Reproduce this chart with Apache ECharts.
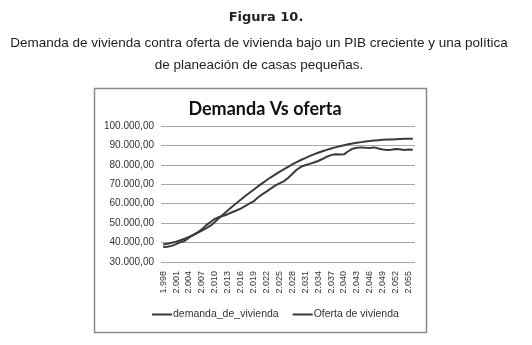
<!DOCTYPE html>
<html>
<head>
<meta charset="utf-8">
<script src="https://cdn.jsdelivr.net/npm/echarts@6/dist/echarts.min.js"></script>
<style>
  html, body { margin: 0; padding: 0; background: #fff; }
  #chart { width: 532px; height: 345px; }
</style>
</head>
<body>
<div id="chart"></div>
<script>
const years = [];
for (let y = 1998; y <= 2056; y++) years.push(String(y));

const demanda = [
  39000, 39400, 39900, 40500, 41200, 42000, 42900, 43900, 45000, 46200,
  47400, 48700, 50600, 52600, 54600, 56500, 58400, 60200, 62000, 63800,
  65500, 67200, 68900, 70500, 72100, 73600, 75000, 76400, 77700, 79000,
  80200, 81400, 82500, 83500, 84500, 85400, 86200, 87000, 87700, 88400,
  89000, 89600, 90100, 90600, 91000, 91400, 91700, 92000, 92300, 92500,
  92700, 92900, 93000, 93100, 93200, 93300, 93400, 93400, 93500
];

const oferta = [
  37700, 37800, 38300, 39200, 40200, 40800, 42500, 44000, 45300, 46800,
  49000, 50600, 52200, 53200, 53800, 54600, 55600, 56500, 57500, 58700,
  60000, 61200, 63200, 64800, 66200, 67800, 69300, 70500, 71500, 73200,
  75300, 77500, 79000, 79800, 80500, 81200, 82000, 83000, 84200, 85000,
  85500, 85300, 85400, 87000, 88300, 88800, 89000, 88800, 88700, 89000,
  88400, 87900, 87600, 87800, 88200, 88000, 87700, 87900, 87800
];

const chart = echarts.init(document.getElementById('chart'));

// 100000 -> "100.000,00"
const fmtNum = v => v.toFixed(2).replace('.', ',').replace(/\B(?=(\d{3})+(?!\d))/g, '.');
const fmtYear = y => y.slice(0, 1) + '.' + y.slice(1);

const lineColor = '#3a3a3a';

const option = {
  backgroundColor: '#fff',
  animation: false,
  textStyle: { fontFamily: 'Liberation Sans' },
  title: [
    {
      text: 'Figura 10.',
      left: 'center',
      top: 6,
      textStyle: { fontSize: 13, fontWeight: 'bold', color: '#222', fontFamily: 'DejaVu Sans' }
    },
    {
      text: 'Demanda de vivienda contra oferta de vivienda bajo un PIB creciente y una política\nde planeación de casas pequeñas.',
      left: 254,
      textAlign: 'center',
      top: 27,
      textStyle: { fontSize: 13.5, fontWeight: 'normal', color: '#1e1e1e', lineHeight: 22, fontFamily: 'Liberation Sans' }
    },
    {
      text: 'Demanda Vs oferta',
      left: 260,
      textAlign: 'center',
      top: 95,
      textStyle: { fontSize: 18, fontWeight: 'bold', color: '#111', fontFamily: 'Lato' }
    }
  ],
  graphic: [
    {
      type: 'rect',
      shape: { x: 94.5, y: 88.5, width: 332, height: 244 },
      style: { fill: 'none', stroke: '#8a8a8a', lineWidth: 1.5 },
      z: -1
    }
  ],
  legend: {
    data: ['demanda_de_vivienda', 'Oferta de vivienda'],
    left: 147,
    top: 304,
    itemWidth: 20,
    itemHeight: 2,
    itemGap: 14,
    icon: 'rect',
    textStyle: { fontSize: 10.5, color: '#333', fontFamily: 'Liberation Sans', padding: [0, 0, 0, -4] }
  },
  grid: { left: 161, right: 117, top: 126, bottom: 83 },
  xAxis: {
    type: 'category',
    data: years,
    boundaryGap: true,
    axisLine: { show: false },
    axisTick: { show: false },
    axisLabel: {
      interval: 2,
      rotate: 90,
      fontSize: 9,
      color: '#333',
      margin: 9,
      formatter: fmtYear
    }
  },
  yAxis: {
    type: 'value',
    min: 30000,
    max: 100000,
    interval: 10000,
    axisLine: { show: false },
    axisTick: { show: false },
    axisLabel: { fontSize: 10, color: '#333', margin: 7, formatter: fmtNum },
    splitLine: { lineStyle: { color: '#a8a8a8', width: 1 } }
  },
  series: [
    {
      name: 'demanda_de_vivienda',
      type: 'line',
      data: demanda,
      symbol: 'none',
      lineStyle: { color: lineColor, width: 2 },
      itemStyle: { color: lineColor }
    },
    {
      name: 'Oferta de vivienda',
      type: 'line',
      data: oferta,
      symbol: 'none',
      lineStyle: { color: lineColor, width: 2 },
      itemStyle: { color: lineColor }
    }
  ]
};

chart.setOption(option);
</script>
</body>
</html>
